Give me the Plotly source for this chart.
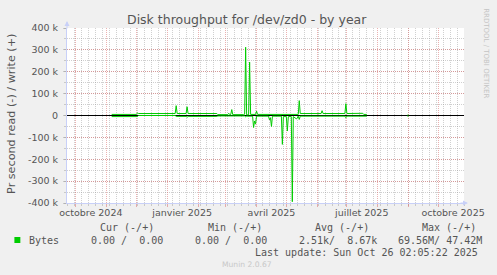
import plotly.graph_objects as go
import pandas as pd

# ---------------- data (bytes per second) ----------------
write_dates = ["2024-11-06", "2024-12-01", "2024-12-02", "2024-12-03", "2025-01-09", "2025-01-10",
               "2025-01-11", "2025-01-20", "2025-01-21", "2025-01-22", "2025-02-20", "2025-02-21",
               "2025-03-03", "2025-03-04", "2025-03-05", "2025-03-06", "2025-03-07", "2025-03-08",
               "2025-03-19", "2025-03-20", "2025-03-21", "2025-03-22", "2025-03-24", "2025-03-25",
               "2025-03-26", "2025-03-31", "2025-04-01", "2025-04-02", "2025-05-13", "2025-05-14",
               "2025-05-15", "2025-06-05", "2025-06-06", "2025-06-07", "2025-06-29", "2025-06-30",
               "2025-07-01", "2025-07-16", "2025-07-17", "2025-07-18", "2025-07-21", "2025-07-22",
               "2025-08-31", "2025-09-01"]
write_vals = [5000, 5000, 12000, 9000, 9000, 45000,
              9000, 9000, 40000, 9000, 9000, 4000,
              4000, 10000, 4000, 5000, 27000, 4000,
              4000, 6000, 312000, 3000, 3000, 244000,
              5000, 5000, 20000, 5000, 5000, 68000,
              9000, 9000, 22000, 9000, 9000, 54000,
              9000, 9000, 10000, 5000, 5000, None,
              2000, 2000]

read_dates = ["2024-11-06", "2024-12-02", "2024-12-03", "2025-01-09", "2025-01-10", "2025-01-20",
              "2025-01-21", "2025-01-22", "2025-02-20", "2025-02-21", "2025-03-20", "2025-03-21",
              "2025-03-22", "2025-03-28", "2025-03-29", "2025-03-30", "2025-03-31", "2025-04-01",
              "2025-04-13", "2025-04-14", "2025-04-15", "2025-04-16", "2025-04-17", "2025-04-26",
              "2025-04-27", "2025-04-28", "2025-05-01", "2025-05-02", "2025-05-03", "2025-05-06",
              "2025-05-07", "2025-05-08", "2025-05-11", "2025-05-12", "2025-05-13", "2025-05-14",
              "2025-05-15", "2025-06-29", "2025-06-30", "2025-07-01", "2025-07-21", "2025-07-22",
              "2025-08-31", "2025-09-01"]
read_vals = [5000, 5000, 0, 0, 4000, 4000,
             8000, 4000, 4000, 2000, 2000, 6000,
             3000, 3000, 55000, 25000, 38000, 3000,
             3000, 20000, 10000, 50000, 3000, 3000,
             132000, 5000, 5000, 71000, 5000, 5000,
             394000, 5000, 15000, 12000, 3000, 18000,
             3000, 3000, 10000, 3000, 3000, None,
             3000, 3000]

x_label_dates = ["2024-10-16", "2025-01-16", "2025-04-16", "2025-07-16", "2025-10-16"]
x_label_text = ["octobre 2024", "janvier 2025", "avril 2025", "juillet 2025", "octobre 2025"]
month_starts = list(pd.date_range("2024-10-01", "2025-10-01", freq="MS"))
week_starts = list(pd.date_range("2024-09-23", "2025-10-27", freq="7D"))

y_tick_vals = [400000, 300000, 200000, 100000, 0, -100000, -200000, -300000, -400000]
y_tick_text = ["400 k", "300 k", "200 k", "100 k", "0", "-100 k", "-200 k", "-300 k", "-400 k"]

legend_headers = ["Cur (-/+)", "Min (-/+)", "Avg (-/+)", "Max (-/+)"]
legend_values = ["0.00 /  0.00", "0.00 /  0.00", "2.51k/  8.67k", "69.56M/ 47.42M"]
series_name = "Bytes"
title_text = "Disk throughput for /dev/zd0 - by year"
y_title = "Pr second read (-) / write (+)"
last_update = "Last update: Sun Oct 26 02:05:22 2025"
munin_version = "Munin 2.0.67"
watermark = "RRDTOOL / TOBI OETIKER"

# ---------------- styling ----------------
W, H = 497, 275
L, R, T, B = 67, 30, 28, 72
PW, PH = W - L - R, H - T - B
GREEN = "#00cc00"
TXT = "#555555"
GRID = "rgba(150,150,150,0.45)"
MGRID = "rgba(215,100,100,0.5)"
DOTS = "1px,1px"
AXIS = "#c8d0f8"
SANS = "DejaVu Sans"
MONO = "DejaVu Sans Mono"
X_RANGE = ["2024-09-22", "2025-10-27"]


def px(x):
    return (x - L) / PW


def py(y):
    return (H - B - y) / PH


fig = go.Figure()
fig.add_trace(go.Scatter(x=write_dates, y=write_vals, mode="lines",
                         line=dict(color=GREEN, width=1), connectgaps=False,
                         hoverinfo="skip", showlegend=False))
fig.add_trace(go.Scatter(x=read_dates, y=[None if v is None else -v for v in read_vals],
                         mode="lines", xaxis="x2",
                         line=dict(color=GREEN, width=1), connectgaps=False,
                         hoverinfo="skip", showlegend=False))

fig.update_layout(
    width=W, height=H, autosize=False,
    margin=dict(l=L, r=R, t=T, b=B, pad=0),
    paper_bgcolor="#F0F0F0", plot_bgcolor="#FFFFFF",
    font=dict(family=SANS, size=9.5, color=TXT),
    showlegend=False,
    xaxis=dict(type="date", range=X_RANGE, tickmode="array",
               tickvals=x_label_dates, ticktext=x_label_text, ticks="",
               showgrid=False, zeroline=False, showline=True, linecolor=AXIS, linewidth=1,
               tickfont=dict(family=SANS, size=9.5, color=TXT), ticklabelstandoff=1,
               minor=dict(tickmode="array", tickvals=week_starts, showgrid=True,
                          gridcolor=GRID, griddash=DOTS, gridwidth=1,
                          ticks="outside", ticklen=2, tickcolor=GRID)),
    xaxis2=dict(type="date", range=X_RANGE, overlaying="x", anchor="y", side="bottom",
                tickmode="array", tickvals=month_starts, showticklabels=False,
                ticks="outside", ticklen=3, tickcolor=MGRID,
                showgrid=True, gridcolor=MGRID, griddash=DOTS, gridwidth=1,
                zeroline=False, showline=False),
    yaxis=dict(range=[-400000, 400000], tickmode="array", tickvals=y_tick_vals,
               ticktext=y_tick_text, ticks="outside", ticklen=3, tickcolor=GRID,
               showgrid=True, gridcolor=MGRID, griddash=DOTS, gridwidth=1,
               zeroline=True, zerolinecolor="#000000", zerolinewidth=1,
               showline=True, linecolor=AXIS, linewidth=1,
               tickfont=dict(family=SANS, size=9.5, color=TXT), ticklabelstandoff=3,
               minor=dict(dtick=50000, showgrid=True, gridcolor=GRID, griddash=DOTS,
                          ticks="outside", ticklen=2, tickcolor=GRID)),
)

ann = []
ann.append(dict(text=title_text, x=px(248.5), y=py(19.5), xref="paper", yref="paper",
                xanchor="center", yanchor="middle", showarrow=False,
                font=dict(family=SANS, size=12.5, color=TXT)))
ann.append(dict(text=y_title, x=px(10.5), y=py(114), xref="paper", yref="paper",
                xanchor="center", yanchor="middle", textangle=-90, showarrow=False,
                font=dict(family=SANS, size=11.2, color=TXT)))
ann.append(dict(text=watermark, x=px(489), y=py(53), xref="paper", yref="paper",
                xanchor="center", yanchor="middle", textangle=90, showarrow=False,
                font=dict(family=SANS, size=7, color="#c4c4c4")))
header_x = [98, 207, 315, 423]
value_x = [89, 194, 299, 398]
for hx, htxt in zip(header_x, legend_headers):
    ann.append(dict(text=htxt, x=px(hx), y=py(227.5), xref="paper", yref="paper",
                    xanchor="left", yanchor="middle", showarrow=False,
                    font=dict(family=MONO, size=10, color=TXT)))
for vx, vtxt in zip(value_x, legend_values):
    ann.append(dict(text=vtxt.replace(" ", "&nbsp;"), x=px(vx), y=py(240), xref="paper", yref="paper",
                    xanchor="left", yanchor="middle", showarrow=False,
                    font=dict(family=MONO, size=10, color=TXT)))
ann.append(dict(text=series_name, x=px(27), y=py(240), xref="paper", yref="paper",
                xanchor="left", yanchor="middle", showarrow=False,
                font=dict(family=MONO, size=10, color=TXT)))
ann.append(dict(text=last_update, x=px(483), y=py(252), xref="paper", yref="paper",
                xanchor="right", yanchor="middle", showarrow=False,
                font=dict(family=MONO, size=10, color=TXT)))
ann.append(dict(text=munin_version, x=px(248), y=py(264), xref="paper", yref="paper",
                xanchor="center", yanchor="middle", showarrow=False,
                font=dict(family=SANS, size=7.6, color="#c8c8c8")))
# axis arrows
ann.append(dict(text="", x=0, y=py(21), xref="paper", yref="paper", showarrow=True,
                ax=0, ay=9, arrowhead=2, arrowsize=1, arrowwidth=1, arrowcolor=AXIS))
ann.append(dict(text="", x=px(471), y=0, xref="paper", yref="paper", showarrow=True,
                ax=-9, ay=0, arrowhead=2, arrowsize=1, arrowwidth=1, arrowcolor=AXIS))
fig.update_layout(annotations=ann)

fig.add_shape(type="rect", xref="paper", yref="paper",
              x0=px(14), x1=px(20), y0=py(243), y1=py(237),
              fillcolor=GREEN, line=dict(width=0))

fig.write_html("out.html")
